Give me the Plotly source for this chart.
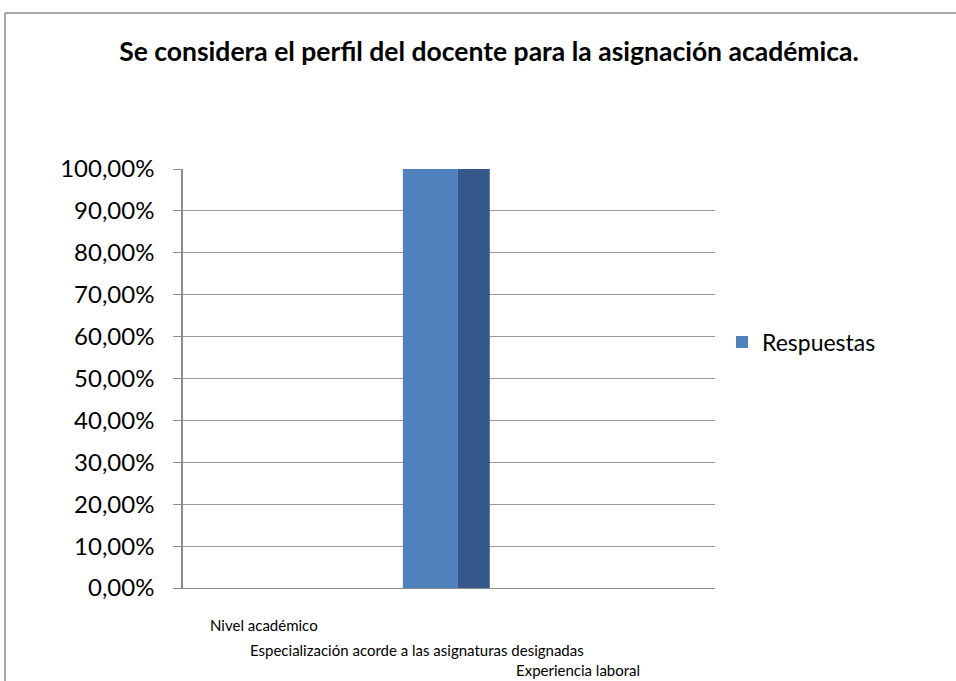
import plotly.graph_objects as go

categories = ["Nivel académico",
              "Especialización acorde a las asignaturas designadas",
              "Experiencia laboral"]
values = [0.0, 1.0, 0.0]
tick_vals = [0.0, 0.1, 0.2, 0.3, 0.4, 0.5, 0.6, 0.7, 0.8, 0.9, 1.0]
tick_text = ["0,00%", "10,00%", "20,00%", "30,00%", "40,00%", "50,00%",
             "60,00%", "70,00%", "80,00%", "90,00%", "100,00%"]

FONT = "Lato"
W, H = 956, 681
L, T = 183, 169
R = W - 715
B = H - 588
PW, PH = W - L - R, H - T - B


def py(pix):
    """reference pixel row -> paper y"""
    return (T + PH - pix) / PH


def px(pix):
    """reference pixel column -> paper x"""
    return (pix - L) / PW


fig = go.Figure()
# front face
fig.add_trace(go.Bar(x=categories, y=values, name="Respuestas",
                     marker=dict(color="#4F81BD", line=dict(width=0)),
                     width=0.31, offset=-0.26))
# side face (depth effect)
fig.add_trace(go.Bar(x=categories, y=values, name="Respuestas", showlegend=False,
                     marker=dict(color="#34588A", line=dict(width=0)),
                     width=0.18, offset=0.05, hoverinfo="skip"))

# category labels (staggered like the reference)
label_shift = [-8, -32, -48]
label_row = [625, 650, 670]
annotations = []
for cat, dx, row in zip(categories, label_shift, label_row):
    annotations.append(dict(x=cat, xref="x", y=py(row), yref="paper",
                            text=cat, showarrow=False, xshift=dx,
                            xanchor="center", yanchor="middle",
                            font=dict(family=FONT, size=15, color="black")))

border = dict(color="#8c8c8c", width=1.5)
fig.update_layout(
    width=W, height=H,
    paper_bgcolor="white", plot_bgcolor="white",
    barmode="overlay",
    margin=dict(l=L, r=R, t=T, b=B, autoexpand=False),
    font=dict(family=FONT, color="black"),
    title=dict(text="<b>Se considera el perfil del docente para la asignación académica.</b>",
               x=489 / W, xanchor="center", xref="container",
               y=1 - 52 / H, yanchor="middle", yref="container",
               font=dict(family=FONT, size=26.5, color="black")),
    legend=dict(x=px(722), y=py(342), xanchor="left", yanchor="middle",
                font=dict(family=FONT, size=23), bgcolor="rgba(0,0,0,0)"),
    xaxis=dict(tickmode="array", tickvals=categories, showticklabels=False,
               automargin=False, showgrid=False,
               showline=True, linecolor="#8c8c8c", linewidth=1, ticks=""),
    yaxis=dict(range=[0, 1.0], tickmode="array", tickvals=tick_vals, ticktext=tick_text,
               automargin=False,
               tickfont=dict(family=FONT, size=24), showgrid=True,
               gridcolor="#9a9a9a", gridwidth=1, zeroline=False,
               showline=True, linecolor="#8c8c8c", linewidth=1.5,
               ticks="outside", ticklen=8, tickcolor="#8c8c8c", ticklabelstandoff=14),
    annotations=annotations,
    shapes=[
        dict(type="line", xref="paper", yref="paper",
             x0=px(5), x1=px(W + 40), y0=py(13), y1=py(13),
             line=border, layer="below"),
        dict(type="line", xref="paper", yref="paper",
             x0=px(5), x1=px(5), y0=py(13), y1=py(H + 40),
             line=border, layer="below"),
    ],
)

fig.write_html("out.html",
               config={"displayModeBar": False},
               post_script="document.body.style.margin='0';"
                           "document.body.style.overflow='hidden';")
